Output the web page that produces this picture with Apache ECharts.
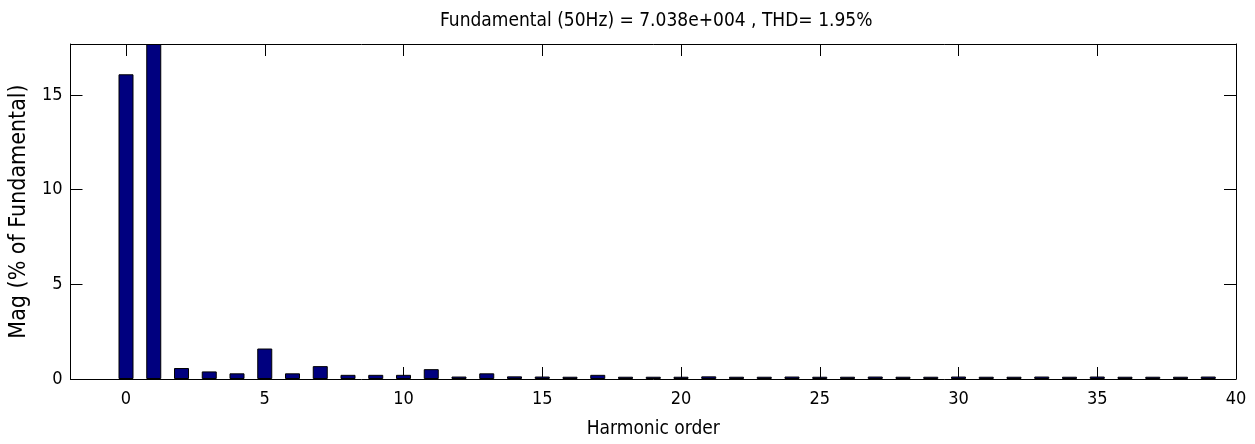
<!DOCTYPE html>
<html>
<head>
<meta charset="utf-8">
<script src="https://cdn.jsdelivr.net/npm/echarts@6/dist/echarts.min.js"></script>
<style>
html,body{margin:0;padding:0;background:#fff;}
#chart{width:1255px;height:444px;}
</style>
</head>
<body>
<div id="chart"></div>
<script>
// Harmonic orders shown
const orders = [0,1,2,3,4,5,6,7,8,9,10,11,12,13,14,15,16,17,18,19,20,21,22,23,24,25,26,27,28,29,30,31,32,33,34,35,36,37,38,39];
// Magnitude (% of fundamental)
const magnitudes = [16.1,17.7,0.58,0.40,0.30,1.61,0.30,0.68,0.22,0.22,0.22,0.52,0.13,0.30,0.14,0.13,0.12,0.22,0.12,0.12,
                    0.12,0.14,0.12,0.12,0.13,0.12,0.12,0.13,0.12,0.12,0.13,0.12,0.12,0.13,0.12,0.13,0.12,0.12,0.12,0.13];
const xTicks = [0,5,10,15,20,25,30,35,40];
const yTicks = [0,5,10,15];
const titleText = 'Fundamental (50Hz) = 7.038e+004 , THD= 1.95%';
const xName = 'Harmonic order';
const yName = 'Mag (% of Fundamental)';

const FONT = '"DejaVu Sans Condensed","Liberation Sans",sans-serif';
const chart = echarts.init(document.getElementById('chart'), null, {renderer:'canvas'});
const axisLine = {show:true, onZero:false, lineStyle:{color:'#000', width:1}};
const tick = {show:true, inside:true, length:12, lineStyle:{color:'#000', width:1}};
chart.setOption({
  animation:false,
  backgroundColor:'#fff',
  title:{text:titleText, left:435, top:7,
    textStyle:{fontFamily:FONT, fontSize:19, fontWeight:'normal', color:'#000'}},
  grid:{left:70, right:19, top:44, bottom:64, containLabel:false},
  xAxis:[{
    type:'value', min:-2, max:40, position:'bottom',
    axisLine:axisLine,
    axisTick:Object.assign({}, tick, {customValues:xTicks}),
    axisLabel:{customValues:xTicks, margin:11, fontFamily:FONT, fontSize:18, color:'#000'},
    splitLine:{show:false},
    name:xName, nameLocation:'middle', nameGap:41,
    nameTextStyle:{fontFamily:FONT, fontSize:19, color:'#000'}
  },{
    type:'value', min:-2, max:40, position:'top',
    axisLine:axisLine,
    axisTick:Object.assign({}, tick, {customValues:xTicks}),
    axisLabel:{show:false}, splitLine:{show:false}
  }],
  yAxis:[{
    type:'value', min:0, max:17.7, position:'left',
    axisLine:axisLine,
    axisTick:Object.assign({}, tick, {customValues:yTicks}),
    axisLabel:{customValues:yTicks, margin:8, fontFamily:FONT, fontSize:18, color:'#000'},
    splitLine:{show:false},
    name:yName, nameLocation:'middle', nameGap:34,
    nameTextStyle:{fontFamily:FONT, fontSize:23, color:'#000'}
  },{
    type:'value', min:0, max:17.7, position:'right',
    axisLine:axisLine,
    axisTick:Object.assign({}, tick, {customValues:yTicks}),
    axisLabel:{show:false}, splitLine:{show:false}
  }],
  series:[{
    type:'bar', xAxisIndex:0, yAxisIndex:0,
    data: orders.map((o,i)=>[o, magnitudes[i]]),
    barWidth:15,
    itemStyle:{color:'#00007f', borderColor:'#000', borderWidth:1},
    clip:true
  }]
});
</script>
</body>
</html>
